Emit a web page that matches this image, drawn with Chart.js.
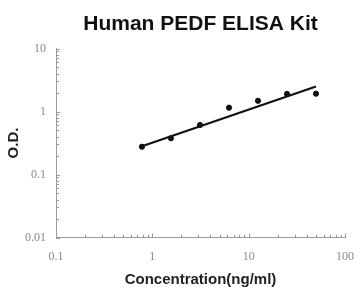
<!DOCTYPE html>
<html>
<head>
<meta charset="utf-8">
<script src="https://cdn.jsdelivr.net/npm/chart.js@4/dist/chart.umd.min.js"></script>
<style>
html,body{margin:0;padding:0;background:#fff;}
#wrap{width:354px;height:287px;position:relative;}
</style>
</head>
<body>
<div id="wrap"><canvas id="c" width="354" height="287"></canvas></div>
<script>
// Data
const concentrations = [0.78, 1.56, 3.125, 6.25, 12.5, 25, 50];
const odValues = [0.276, 0.376, 0.61, 1.15, 1.48, 1.9, 1.92];
const fitConcentrations = [0.78, 50];
const fitValues = [0.28, 2.5];
const xTickLabels = ['0.1', '1', '10', '100'];
const yTickLabels = ['0.01', '0.1', '1', '10'];
const titleText = 'Human PEDF ELISA Kit';
const xTitle = 'Concentration(ng/ml)';
const yTitle = 'O.D.';

function logTicks(labels) {
  const out = [];
  const vals = labels.map(Number);
  for (let i = 0; i < vals.length; i++) {
    out.push({value: vals[i], major: true});
    if (i < vals.length - 1) {
      for (let m = 2; m <= 9; m++) out.push({value: vals[i] * m, major: false});
    }
  }
  return out;
}

const innerTicks = {
  id: 'innerTicks',
  afterDraw(chart) {
    const ctx = chart.ctx;
    const ca = chart.chartArea;
    ctx.save();
    ctx.strokeStyle = '#9a9a9a';
    ctx.lineWidth = 1;
    const xs = chart.scales.x, ys = chart.scales.y;
    xs.ticks.forEach(t => {
      const px = Math.round(xs.getPixelForValue(t.value)) + 0.5;
      const len = t.major ? 4 : 3;
      ctx.beginPath();
      ctx.moveTo(px, ca.bottom);
      ctx.lineTo(px, ca.bottom - len);
      ctx.stroke();
    });
    ys.ticks.forEach(t => {
      const py = Math.round(ys.getPixelForValue(t.value)) + 0.5;
      const len = t.major ? 4 : 3;
      ctx.beginPath();
      ctx.moveTo(ca.left, py);
      ctx.lineTo(ca.left + len, py);
      ctx.stroke();
    });
    ctx.restore();
  }
};

const tickFont = {family: 'Liberation Serif', size: 12};

new Chart(document.getElementById('c'), {
  type: 'scatter',
  data: {
    datasets: [
      {
        label: 'fit',
        data: fitConcentrations.map((x, i) => ({x, y: fitValues[i]})),
        showLine: true,
        borderColor: '#111',
        borderWidth: 2.2,
        pointRadius: 0,
        fill: false
      },
      {
        label: 'points',
        data: concentrations.map((x, i) => ({x, y: odValues[i]})),
        showLine: false,
        backgroundColor: '#111',
        borderColor: '#111',
        pointRadius: 2.6,
        pointStyle: 'circle'
      }
    ]
  },
  options: {
    responsive: false,
    animation: false,
    devicePixelRatio: 1,
    layout: {padding: {left: 0, right: 9, top: 0, bottom: 0}},
    plugins: {
      legend: {display: false},
      tooltip: {enabled: false},
      title: {
        display: true,
        fullSize: false,
        text: titleText,
        color: '#111',
        font: {family: 'Liberation Sans', size: 21, weight: 'bold', lineHeight: 1.2},
        padding: {top: 12, bottom: 11.3}
      }
    },
    scales: {
      x: {
        type: 'logarithmic',
        min: 0.1, max: 100,
        afterBuildTicks: s => { s.ticks = logTicks(xTickLabels); },
        afterFit: s => { s.height = 49.5; s.paddingRight = 0; s.paddingLeft = 0; },
        grid: {display: false, drawTicks: false},
        border: {display: true, color: '#9a9a9a', width: 1},
        ticks: {
          autoSkip: false, maxRotation: 0, padding: 12,
          color: '#8a8a8a', font: tickFont,
          callback: (v, i, ticks) => {
            const idx = xTickLabels.map(Number).indexOf(v);
            return idx >= 0 ? xTickLabels[idx] : '';
          }
        },
        title: {
          display: true, text: xTitle, color: '#222',
          font: {family: 'Liberation Sans', size: 15, weight: 'bold', lineHeight: 1.0},
          padding: {top: 0, bottom: 0}
        }
      },
      y: {
        type: 'logarithmic',
        min: 0.01, max: 10,
        afterBuildTicks: s => { s.ticks = logTicks(yTickLabels); },
        afterFit: s => { s.width = 56; },
        grid: {display: false, drawTicks: false},
        border: {display: true, color: '#9a9a9a', width: 1},
        ticks: {
          autoSkip: false, padding: 10,
          color: '#8a8a8a', font: tickFont,
          callback: (v) => {
            const idx = yTickLabels.map(Number).indexOf(v);
            return idx >= 0 ? yTickLabels[idx] : '';
          }
        },
        title: {
          display: true, text: yTitle, color: '#222',
          font: {family: 'Liberation Sans', size: 15, weight: 'bold', lineHeight: 1.2},
          padding: {top: 5, bottom: 0}
        }
      }
    }
  },
  plugins: [innerTicks]
});
</script>
</body>
</html>
